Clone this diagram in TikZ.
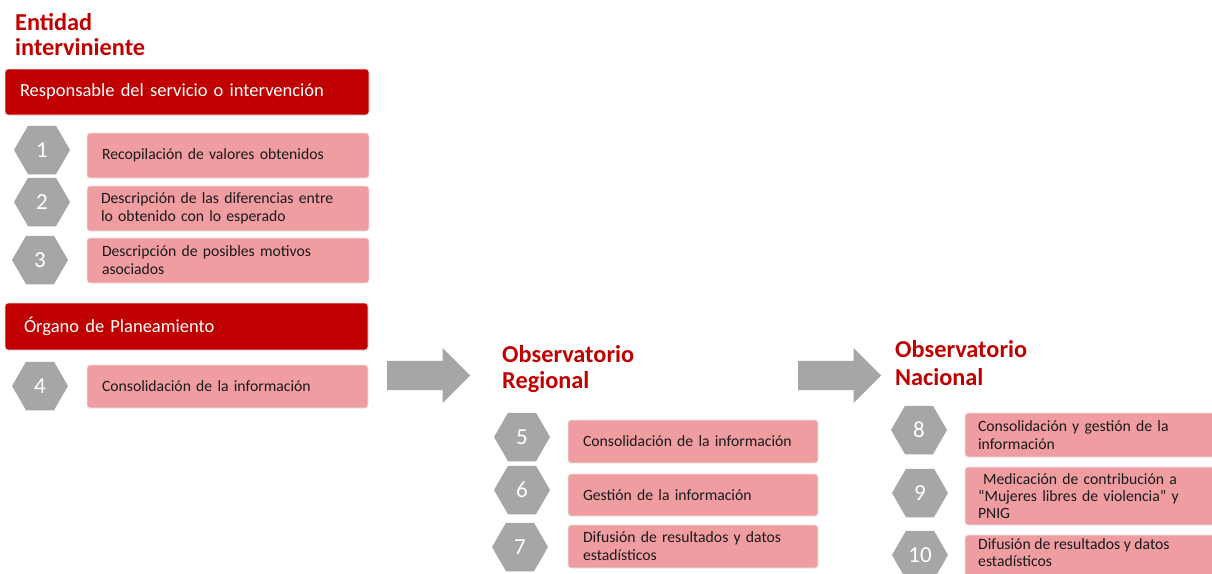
\documentclass[tikz,border=0pt]{standalone}
\usepackage{fontspec}
\setmainfont{Carlito}
\usetikzlibrary{shapes.geometric,shapes.arrows}
\definecolor{hdred}{HTML}{C00000}
\definecolor{pinkbox}{HTML}{F09DA1}
\definecolor{hexgray}{HTML}{A6A6A6}
\definecolor{ttlred}{HTML}{C00000}
\definecolor{boxtext}{HTML}{1A1A1A}
\begin{document}
\begin{tikzpicture}[x=1pt,y=-1pt,
  hexnode/.style={regular polygon, regular polygon sides=6, minimum size=56pt, inner sep=0pt, fill=hexgray, text=white, font=\fontsize{23}{23}\selectfont},
  stepbox/.style={rectangle, rounded corners=3pt, fill=pinkbox, draw=black!10, line width=0.8pt, inner xsep=15pt, inner ysep=0pt, align=left, text=boxtext, font=\fontsize{15.7}{18}\selectfont},
  header/.style={rectangle, rounded corners=3pt, fill=hdred, draw=black!10, line width=0.8pt, inner ysep=0pt, align=left, text=white, font=\fontsize{18.5}{21}\selectfont},
  ttl/.style={anchor=base west, inner sep=0pt, text=ttlred, font=\fontsize{24.3}{24}\selectfont\bfseries},
  blockarrow/.style={single arrow, fill=hexgray, minimum height=83pt, single arrow head extend=13pt, inner sep=0pt, anchor=tail}
]
\useasboundingbox[fill=white] (0,0) rectangle (1212,573);

% Column 1
\node[ttl] (t1a) at (15,30) {Entidad};
\node[ttl] (t1b) at (15,55) {interviniente};
\node[header, minimum width=364pt, minimum height=46pt, inner xsep=15pt, text width=334pt] (h1) at (187,92) {Responsable del servicio o intervención};

\node[hexnode] (n1) at (42,150) {1};
\node[stepbox, minimum width=282pt, minimum height=45pt, text width=252pt] (b1) at (228,155.5) {Recopilación de valores obtenidos};
\node[hexnode] (n2) at (42,202) {2};
\node[stepbox, minimum width=282pt, minimum height=45pt, text width=254pt, inner xsep=14pt] (b2) at (228,208.5) {Descripción de las diferencias entre\\lo obtenido con lo esperado};
\node[hexnode] (n3) at (40,260) {3};
\node[stepbox, minimum width=282pt, minimum height=45pt, text width=252pt] (b3) at (228,260.5) {Descripción de posibles motivos\\asociados};

\node[header, minimum width=363pt, minimum height=47pt, inner xsep=19pt, text width=325pt] (h2) at (186.5,326.5) {Órgano de Planeamiento};
\node[hexnode] (n4) at (40,386) {4};
\node[stepbox, minimum width=281pt, minimum height=43pt, text width=251pt] (b4) at (227.5,386.5) {Consolidación de la información};

% Arrows
\node[blockarrow] (a1) at (387,375.5) {\rule{0pt}{29pt}};
\node[blockarrow] (a2) at (798,375.5) {\rule{0pt}{29pt}};

% Column 2
\node[ttl] (t2a) at (502,362) {Observatorio};
\node[ttl] (t2b) at (502,388) {Regional};
\node[hexnode] (n5) at (522,437) {5};
\node[stepbox, minimum width=250pt, minimum height=43pt, text width=220pt] (b5) at (693,441.5) {Consolidación de la información};
\node[hexnode] (n6) at (522,490) {6};
\node[stepbox, minimum width=250pt, minimum height=42pt, text width=220pt] (b6) at (693,495) {Gestión de la información};
\node[hexnode] (n7) at (520,547) {7};
\node[stepbox, minimum width=250pt, minimum height=43pt, text width=220pt] (b7) at (693,546.5) {Difusión de resultados y datos\\estadísticos};

% Column 3
\node[ttl] (t3a) at (895,357) {Observatorio};
\node[ttl] (t3b) at (895,385) {Nacional};
\node[hexnode] (n8) at (919,430) {8};
\node[stepbox, minimum width=250pt, minimum height=44pt, text width=224pt, inner xsep=13pt] (b8) at (1090,435) {Consolidación y gestión de la\\información};
\node[hexnode] (n9) at (920,493) {9};
\node[stepbox, minimum width=250pt, minimum height=58pt, text width=224pt, inner xsep=13pt, font=\fontsize{15.7}{17}\selectfont] (b9) at (1090,496) {\ Medicación de contribución a\\“Mujeres libres de violencia” y\\PNIG};
\node[hexnode] (n10) at (920,555) {10};
\node[stepbox, minimum width=250pt, minimum height=50pt, text width=224pt, inner xsep=13pt] (b10) at (1090,560) {};
\node[anchor=north west, inner sep=0pt, align=left, text=boxtext, font=\fontsize{15.7}{17.5}\selectfont] (b10t) at (978,538) {Difusión de resultados y datos\\estadísticos};
\end{tikzpicture}
\end{document}
